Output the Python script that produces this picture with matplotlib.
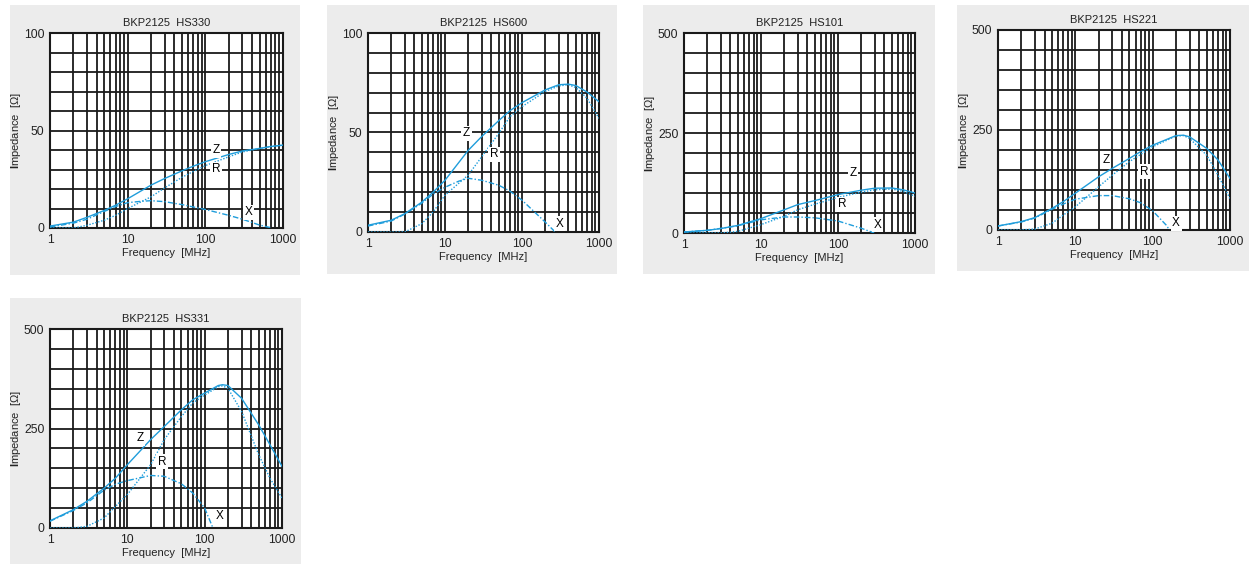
import numpy as np
import matplotlib.pyplot as plt
from matplotlib.patches import Rectangle
from matplotlib.ticker import FixedLocator, NullFormatter

plt.rcParams["font.family"] = ["Liberation Sans", "DejaVu Sans"]
plt.rcParams["mathtext.fontset"] = "custom"
plt.rcParams["mathtext.rm"] = "Liberation Sans"
plt.rcParams["mathtext.bf"] = "Liberation Sans:bold"

# frequency sample points [MHz]
freq = [1, 2, 3, 5, 7, 10, 20, 30, 50, 70, 100, 200, 300, 500, 700, 1000]

# HS330
hs330_z = [1, 3, 5.5, 9, 11.7, 15, 22, 25.4, 29.3, 31.7, 34, 37.7, 39.5, 40.8, 41.8, 42.5]
hs330_r = [0, 0, 1.4, 4, 6.5, 10, 16, 20.6, 26, 29, 32, 36.5, 39, 40.8, 41.8, 42.5]
hs330_xf = [1, 2, 3, 5, 7, 10, 15, 20, 30, 50, 100, 200, 300, 500, 720]
hs330_x = [0.5, 2.5, 4.5, 8.5, 11, 13, 13.7, 14, 13.5, 12, 9.5, 6.5, 4.5, 1.5, 0]

# HS600
hs600_zf = [1, 2, 3, 5, 7, 10, 20, 30, 50, 70, 100, 200, 300, 400, 500, 700, 1000]
hs600_z = [3.4, 5.9, 9.2, 15, 20, 26, 41, 48, 56, 61, 65, 71.4, 74, 74.3, 73.6, 70.3, 65.5]
hs600_r = [0, 0, 0, 4.2, 10, 18.5, 28.6, 37.8, 49.6, 58, 63, 70.6, 73.4, 74, 72.6, 67.2, 57.1]
hs600_xf = [1, 2, 3, 5, 7, 10, 15, 20, 30, 50, 70, 100, 200, 270]
hs600_x = [3, 5.5, 9, 14.5, 19, 22.5, 25.5, 27, 26, 23.5, 20.5, 16, 5, 0]

# HS101
hs101_zf = [1, 2, 3, 5, 10, 20, 30, 50, 100, 200, 300, 500, 700, 1000]
hs101_z = [2.5, 6.7, 11, 19, 36, 58, 71, 81, 96, 107, 112, 112.5, 108, 100]
hs101_r = [0, 0, 0, 4, 21, 42, 58, 72, 89, 102, 108, 110, 104, 92]
hs101_xf = [1, 2, 5, 10, 20, 30, 50, 100, 200, 295]
hs101_x = [2.5, 6.5, 18, 33, 40, 40, 38, 30, 12, 0]

# HS221
hs221_zf = [1, 2, 3, 5, 7, 10, 20, 30, 50, 70, 100, 200, 250, 300, 500, 700, 1000]
hs221_z = [10, 21, 31, 54, 71, 92, 133, 154, 179, 196, 212, 236, 237, 233, 204, 175, 129]
hs221_r = [0, 0, 2.5, 17, 37.5, 58, 108, 137, 171, 189, 208, 235, 236, 229, 187, 137, 79]
hs221_xf = [1, 2, 3, 5, 7, 10, 20, 30, 50, 70, 100, 150, 165]
hs221_x = [10, 20, 30, 52, 65, 77, 86, 86, 78, 68, 48, 12, 0]

# HS331
hs331_zf = [1, 2, 3, 5, 7, 10, 20, 30, 50, 70, 100, 150, 170, 200, 300, 500, 700, 1000]
hs331_z = [18, 46, 67, 100, 125, 159, 222, 255, 297, 322, 339, 358, 360, 358, 326, 259, 209, 155]
hs331_r = [0, 0, 4, 25, 54, 84, 159, 222, 280, 314, 334, 355, 357, 351, 293, 184, 125, 75]
hs331_xf = [1, 2, 3, 5, 7, 10, 20, 30, 50, 70, 100, 128]
hs331_x = [17, 44, 63, 95, 110, 119, 132, 130, 111, 88, 50, 0]

panels = [
    ("BKP2125  HS330", 100, (freq, hs330_z), (freq, hs330_r), (hs330_xf, hs330_x),
     [(137, 40), (137, 30), (360, 8)]),
    ("BKP2125  HS600", 100, (hs600_zf, hs600_z), (hs600_zf, hs600_r), (hs600_xf, hs600_x),
     [(19, 49.5), (43, 39), (308, 4.2)]),
    ("BKP2125  HS101", 500, (hs101_zf, hs101_z), (hs101_zf, hs101_r), (hs101_xf, hs101_x),
     [(156, 150), (113, 72), (324, 21)]),
    ("BKP2125  HS221", 500, (hs221_zf, hs221_z), (hs221_zf, hs221_r), (hs221_xf, hs221_x),
     [(25, 175), (77, 146), (201, 17)]),
    ("BKP2125  HS331", 500, (hs331_zf, hs331_z), (hs331_zf, hs331_r), (hs331_xf, hs331_x),
     [(14.6, 226), (28, 167), (155, 29)]),
]

# pixel layout: grey box (x0, y0, x1, y1) and plot area (x0, y0, x1, y1)
boxes = [(10, 5, 300, 275), (327, 5, 617, 274), (643, 5, 935, 274),
         (957, 5, 1249, 271), (10, 298, 301, 564)]
plots = [(50, 33, 283, 228), (368, 33, 599, 232), (684, 33, 915, 233),
         (998, 30, 1230, 230), (50, 329, 282, 528)]

W, H = 1249, 564
fig = plt.figure(figsize=(W / 100, H / 100), dpi=100)
blue = "#1f9ddb"

for (title, ymax, z, r, x, labs), box, pl in zip(panels, boxes, plots):
    bx0, by0, bx1, by1 = box
    fig.patches.append(Rectangle((bx0 / W, 1 - by1 / H), (bx1 - bx0) / W, (by1 - by0) / H,
                                 transform=fig.transFigure, facecolor="#ececec",
                                 edgecolor="none", zorder=-5))
    px0, py0, px1, py1 = pl
    ax = fig.add_axes([px0 / W, 1 - py1 / H, (px1 - px0) / W, (py1 - py0) / H])
    ax.set_facecolor("white")
    ax.set_xscale("log")
    ax.set_xlim(1, 1000)
    ax.set_ylim(0, ymax)

    ax.set_xticks([1, 10, 100, 1000])
    ax.set_xticklabels(["1", "10", "100", "1000"])
    ax.xaxis.set_minor_locator(FixedLocator([m * d for d in (1, 10, 100) for m in range(2, 10)]))
    ax.xaxis.set_minor_formatter(NullFormatter())
    ax.set_yticks([0, ymax / 2, ymax])
    ax.set_yticklabels(["0", str(ymax // 2), str(ymax)])
    ax.yaxis.set_minor_locator(FixedLocator(np.arange(0, ymax + 1, ymax / 10)))
    ax.tick_params(which="both", length=0, labelsize=8.8, colors="#222222")
    ax.tick_params(axis="y", pad=4)
    ax.tick_params(axis="x", pad=4)
    ax.grid(which="both", color="#1a1a1a", linewidth=1.3)
    ax.set_axisbelow(True)
    for s in ax.spines.values():
        s.set_color("#1a1a1a")
        s.set_linewidth(1.5)

    ax.plot(z[0], z[1], color=blue, lw=1.0, ls="-", zorder=3)
    ax.plot(r[0], r[1], color=blue, lw=1.0, ls=(0, (1, 1.2)), zorder=3)
    ax.plot(x[0], x[1], color=blue, lw=1.0, ls=(0, (4, 1.5, 1, 1.5)), zorder=3)

    for name, (lx, ly) in zip("ZRX", labs):
        ax.text(lx, ly, name, fontsize=8.5, ha="center", va="center", zorder=4,
                bbox=dict(facecolor="white", edgecolor="none", pad=1.2))

    ax.set_title(title, fontsize=8, pad=5, color="#222222")
    ax.set_xlabel("Frequency  [MHz]", fontsize=8, labelpad=2, color="#222222")
    ax.set_ylabel(r"$\mathbf{I}$mpedance  [Ω]", fontsize=8, labelpad=1, color="#222222")

fig.savefig("out.png", dpi=100)
